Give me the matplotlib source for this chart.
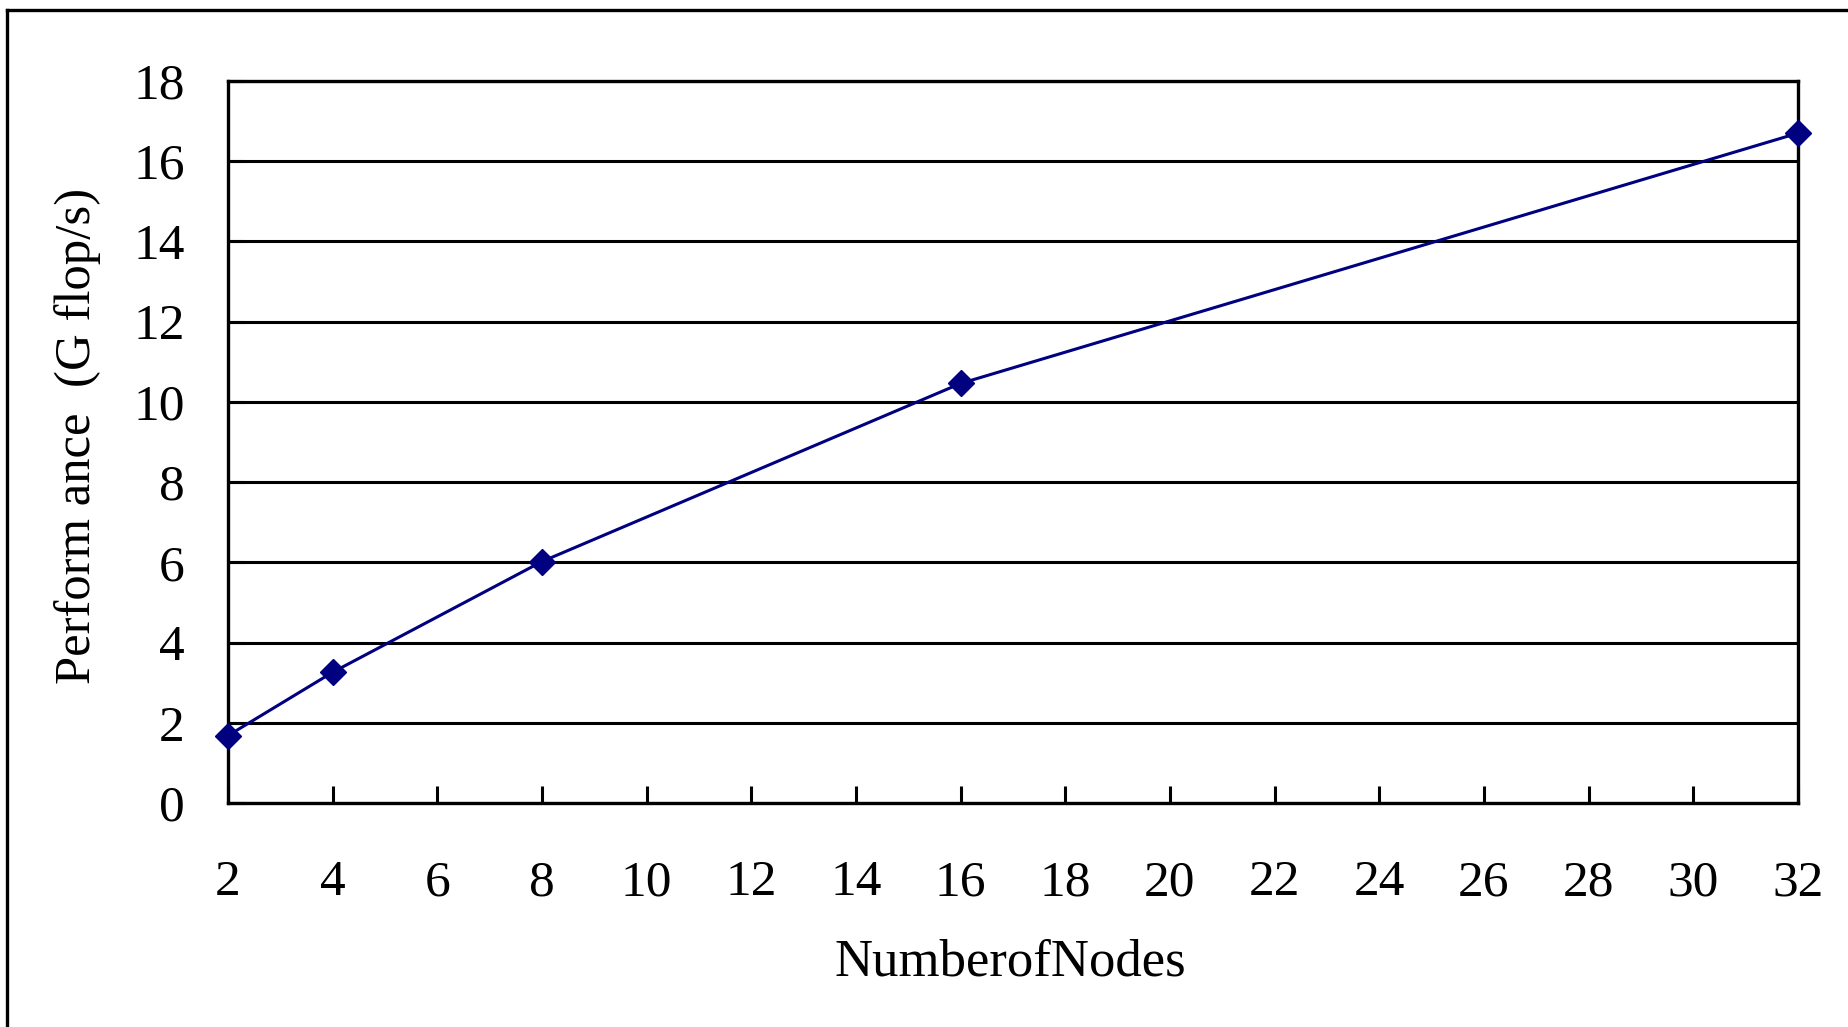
import numpy as np
import matplotlib
matplotlib.use('Agg')
import matplotlib.pyplot as plt
from matplotlib.lines import Line2D

# numero de nodos y rendimiento medido
nodos = [2, 4, 8, 16, 32]
rendimiento = [1.68, 3.26, 6.02, 10.46, 16.70]

x_ticks = np.arange(2, 33, 2)
y_ticks = np.arange(0, 19, 2)

plt.rcParams['font.family'] = ['Liberation Serif', 'DejaVu Serif']

fig = plt.figure(figsize=(18.49, 10.27), dpi=100)
ax = fig.add_axes([228/1849, 1 - 803/1027, (1798-228)/1849, (803-81)/1027])

ax.plot(nodos, rendimiento, color='#000080', lw=2.2, marker='D',
        markersize=13, clip_on=False, zorder=5)

ax.set_xlim(2, 32)
ax.set_ylim(0, 18)
ax.set_xticks(x_ticks)
ax.set_yticks(y_ticks)
ax.grid(axis='y', color='black', lw=2.2)
ax.grid(axis='x', visible=False)
for s in ax.spines.values():
    s.set_linewidth(2.4)

ax.tick_params(axis='x', direction='in', length=12, width=2.2,
               labelsize=37, pad=41)
ax.tick_params(axis='y', direction='in', length=12, width=2.2,
               labelsize=37, pad=31)

fig.text(1010/1849, 1 - 963/1027, 'NumberofNodes', fontsize=38,
         ha='center', va='center')
fig.text(78/1849, 1 - 436/1027, 'Perform ance  (G flop/s)', fontsize=36.5,
         ha='center', va='center', rotation=90)

# marco exterior (solo arriba e izquierda)
fig.add_artist(Line2D([7/1849, 7/1849], [0, 1 - 10/1027],
                      transform=fig.transFigure, color='black', lw=2.4))
fig.add_artist(Line2D([7/1849, 1], [1 - 10/1027, 1 - 10/1027],
                      transform=fig.transFigure, color='black', lw=2.4))

fig.savefig('out.png', dpi=100)
